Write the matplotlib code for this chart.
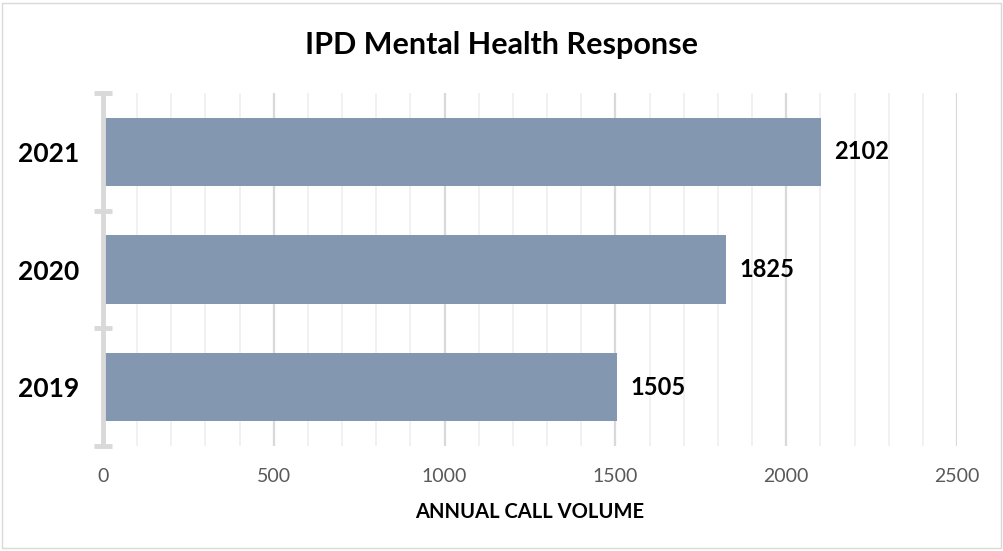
import matplotlib
matplotlib.use("Agg")
import matplotlib.pyplot as plt
from matplotlib.patches import Rectangle
from matplotlib.ticker import MultipleLocator, FixedLocator, NullFormatter

years = ["2019", "2020", "2021"]
calls = [1505, 1825, 2102]
x_ticks = [0, 500, 1000, 1500, 2000, 2500]

plt.rcParams["font.family"] = ["Lato", "DejaVu Sans"]

fig = plt.figure(figsize=(10.04, 5.51), dpi=100)
ax = fig.add_axes([103 / 1004, 1 - 446 / 551, (957 - 103) / 1004, (446 - 93) / 551])

# outer frame of the chart area
fig.patches.append(Rectangle((2 / 1004, 3 / 551), 999 / 1004, 545 / 551,
                             transform=fig.transFigure, fill=False,
                             edgecolor="#d9d9d9", linewidth=1.0))

ypos = list(range(len(years)))
bars = ax.barh(ypos, calls, height=0.58, color="#8397b0", zorder=3)

for y, v in zip(ypos, calls):
    ax.text(v + 38, y, str(v), va="center", ha="left",
            fontsize=17, fontweight="bold", color="black")

ax.set_xlim(0, 2500)
ax.set_ylim(-0.5, len(years) - 0.5)

# major/minor vertical gridlines
ax.xaxis.set_major_locator(FixedLocator(x_ticks))
ax.xaxis.set_minor_locator(MultipleLocator(100))
ax.grid(axis="x", which="major", color="#d9d9d9", linewidth=1.6, zorder=0)
ax.grid(axis="x", which="minor", color="#efefef", linewidth=1.2, zorder=0)
ax.set_xticklabels([str(t) for t in x_ticks], fontsize=14, color="#595959")
ax.tick_params(axis="x", which="both", length=0, pad=16)

# category axis: thick spine with caps at category boundaries
ax.set_yticks(ypos)
ax.set_yticklabels(years, fontsize=19, fontweight="bold", color="black")
ax.set_yticks([-0.5, 0.5, 1.5, 2.5], minor=True)
ax.yaxis.set_minor_formatter(NullFormatter())
ax.tick_params(axis="y", which="major", length=0, pad=17)
ax.tick_params(axis="y", which="minor", direction="inout", length=13,
               width=3.5, color="#d9d9d9")

for side in ["top", "right", "bottom"]:
    ax.spines[side].set_visible(False)
ax.spines["left"].set_color("#d9d9d9")
ax.spines["left"].set_linewidth(3.5)
ax.spines["left"].set_zorder(4)

ax.set_xlabel("ANNUAL CALL VOLUME", fontsize=14.5, fontweight="bold",
              color="black", labelpad=12)

fig.text(0.5, 1 - 45 / 551, "IPD Mental Health Response", ha="center",
         va="center", fontsize=22, fontweight="bold", color="black")

fig.savefig("out.png", dpi=100)
